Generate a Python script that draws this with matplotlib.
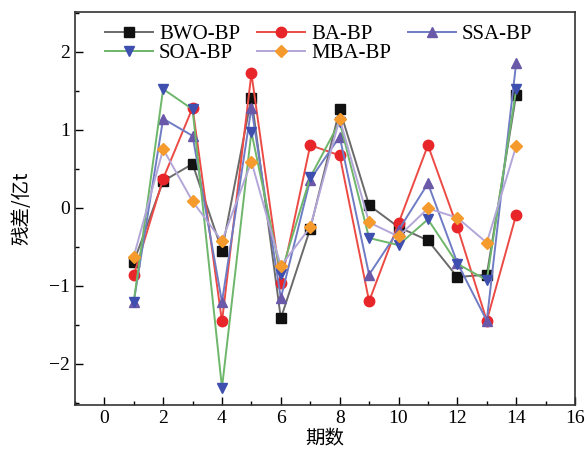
import matplotlib
matplotlib.use("Agg")
import matplotlib.pyplot as plt
from matplotlib.ticker import MultipleLocator

periods = list(range(1, 15))
bwo_bp = [-0.70, 0.34, 0.56, -0.55, 1.41, -1.42, -0.27, 1.26, 0.03, -0.25, -0.42, -0.89, -0.86, 1.45]
ba_bp = [-0.87, 0.37, 1.28, -1.46, 1.72, -0.97, 0.80, 0.67, -1.20, -0.20, 0.80, -0.25, -1.45, -0.09]
ssa_bp = [-1.21, 1.14, 0.92, -1.21, 1.28, -1.16, 0.36, 0.91, -0.86, -0.29, 0.31, -0.71, -1.45, 1.86]
soa_bp = [-1.21, 1.52, 1.26, -2.31, 0.97, -0.85, 0.39, 1.10, -0.39, -0.48, -0.15, -0.72, -0.93, 1.52]
mba_bp = [-0.63, 0.75, 0.08, -0.43, 0.59, -0.75, -0.25, 1.14, -0.19, -0.37, -0.01, -0.13, -0.45, 0.79]

series = [
    ("BWO-BP", bwo_bp, "s", "#6a6a6a", "#111111"),
    ("BA-BP", ba_bp, "o", "#ec4a44", "#e8262a"),
    ("SSA-BP", ssa_bp, "^", "#6f7cc4", "#6a58a8"),
    ("SOA-BP", soa_bp, "v", "#6db66a", "#3f4fb0"),
    ("MBA-BP", mba_bp, "D", "#b3a6d8", "#f59a2c"),
]

fig = plt.figure(figsize=(5.85, 4.55), dpi=100)
ax = fig.add_axes([0.128, 0.110, 0.855, 0.864])

handles = {}
for name, vals, mk, lc, mc in series:
    h, = ax.plot(periods, vals, color=lc, lw=1.4, marker=mk,
                 markersize=7.5 if mk != "D" else 6.5, markerfacecolor=mc,
                 markeredgecolor=mc, label=name)
    handles[name] = h

ax.set_xlim(-1, 16)
ax.set_ylim(-2.53, 2.51)
ax.xaxis.set_major_locator(MultipleLocator(2))
ax.xaxis.set_minor_locator(MultipleLocator(1))
ax.yaxis.set_minor_locator(MultipleLocator(0.5))
ax.tick_params(which="both", direction="in", top=False, right=False,
               labelsize=14, width=1)
ax.tick_params(which="major", length=6)
ax.tick_params(which="minor", length=3)
ax.set_yticks([-2, -1, 0, 1, 2])
ax.set_yticklabels(["\u22122", "\u22121", "0", "1", "2"])
for lab in ax.get_xticklabels() + ax.get_yticklabels():
    lab.set_family("Liberation Serif")
    lab.set_fontsize(14)
for s in ax.spines.values():
    s.set_linewidth(1.2)
    s.set_color("#333333")

ax.set_xlabel("期数", family=["Noto Sans CJK SC"], fontsize=14, labelpad=1)
ax.set_ylabel("残差/亿t", family=["Noto Sans CJK SC", "DejaVu Sans"], fontsize=14, labelpad=12)

order = ["BWO-BP", "SOA-BP", "BA-BP", "MBA-BP", "SSA-BP"]
leg = ax.legend([handles[n] for n in order], order, loc="upper left", ncol=3,
                frameon=False, prop={"family": "Liberation Serif", "size": 15},
                handlelength=2.3, handletextpad=0.3, columnspacing=0.8,
                labelspacing=0.0, borderaxespad=0.2, bbox_to_anchor=(0.035, 1.0))

fig.savefig("out.png", dpi=100)
